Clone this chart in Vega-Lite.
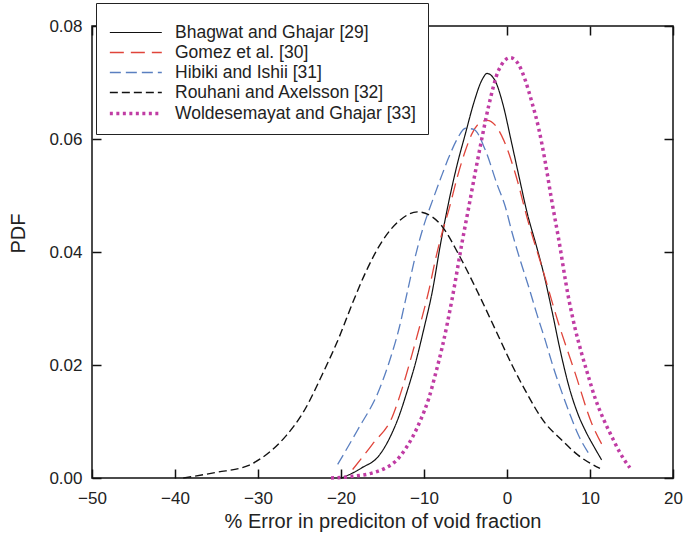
{
  "$schema": "https://vega.github.io/schema/vega-lite/v6.json",
  "autosize": {"type": "none"},
  "padding": {"left": 92, "top": 26, "right": 26, "bottom": 70},
  "width": 581,
  "height": 452,
  "background": "white",
  "config": {
    "view": {"stroke": "#111111", "strokeWidth": 1.5, "fill": null},
    "axis": {
      "grid": false,
      "zindex": 1,
      "labelFont": "Liberation Sans",
      "labelFontSize": 17,
      "labelColor": "#222222",
      "titleFont": "Liberation Sans",
      "titleFontSize": 20,
      "titleFontWeight": "normal",
      "titleColor": "#222222"
    },
    "legend": {
      "labelFont": "Liberation Sans",
      "labelFontSize": 17.5,
      "labelColor": "#222222",
      "labelLimit": 400
    }
  },
  "data": {
    "values": [
      {"series": "Bhagwat and Ghajar [29]", "x": -20.0, "pdf": 0.0000},
      {"series": "Bhagwat and Ghajar [29]", "x": -19.3, "pdf": 0.0004},
      {"series": "Bhagwat and Ghajar [29]", "x": -17.5, "pdf": 0.0018},
      {"series": "Bhagwat and Ghajar [29]", "x": -15.4, "pdf": 0.0040},
      {"series": "Bhagwat and Ghajar [29]", "x": -14.0, "pdf": 0.0075},
      {"series": "Bhagwat and Ghajar [29]", "x": -13.0, "pdf": 0.0110},
      {"series": "Bhagwat and Ghajar [29]", "x": -12.0, "pdf": 0.0155},
      {"series": "Bhagwat and Ghajar [29]", "x": -11.0, "pdf": 0.0205},
      {"series": "Bhagwat and Ghajar [29]", "x": -10.0, "pdf": 0.0265},
      {"series": "Bhagwat and Ghajar [29]", "x": -9.0, "pdf": 0.0330},
      {"series": "Bhagwat and Ghajar [29]", "x": -8.0, "pdf": 0.0415},
      {"series": "Bhagwat and Ghajar [29]", "x": -7.0, "pdf": 0.0490},
      {"series": "Bhagwat and Ghajar [29]", "x": -6.0, "pdf": 0.0555},
      {"series": "Bhagwat and Ghajar [29]", "x": -5.0, "pdf": 0.0610},
      {"series": "Bhagwat and Ghajar [29]", "x": -4.0, "pdf": 0.0664},
      {"series": "Bhagwat and Ghajar [29]", "x": -3.0, "pdf": 0.0705},
      {"series": "Bhagwat and Ghajar [29]", "x": -2.4, "pdf": 0.0716},
      {"series": "Bhagwat and Ghajar [29]", "x": -1.5, "pdf": 0.0705},
      {"series": "Bhagwat and Ghajar [29]", "x": -0.5, "pdf": 0.0662},
      {"series": "Bhagwat and Ghajar [29]", "x": 0.5, "pdf": 0.0597},
      {"series": "Bhagwat and Ghajar [29]", "x": 1.5, "pdf": 0.0530},
      {"series": "Bhagwat and Ghajar [29]", "x": 2.5, "pdf": 0.0465},
      {"series": "Bhagwat and Ghajar [29]", "x": 3.5, "pdf": 0.0413},
      {"series": "Bhagwat and Ghajar [29]", "x": 4.5, "pdf": 0.0357},
      {"series": "Bhagwat and Ghajar [29]", "x": 5.5, "pdf": 0.0290},
      {"series": "Bhagwat and Ghajar [29]", "x": 6.5, "pdf": 0.0220},
      {"series": "Bhagwat and Ghajar [29]", "x": 7.5, "pdf": 0.0160},
      {"series": "Bhagwat and Ghajar [29]", "x": 8.5, "pdf": 0.0115},
      {"series": "Bhagwat and Ghajar [29]", "x": 9.5, "pdf": 0.0082},
      {"series": "Bhagwat and Ghajar [29]", "x": 10.5, "pdf": 0.0055},
      {"series": "Bhagwat and Ghajar [29]", "x": 11.4, "pdf": 0.0032},

      {"series": "Gomez et al. [30]", "x": -18.6, "pdf": 0.0015},
      {"series": "Gomez et al. [30]", "x": -16.2, "pdf": 0.0060},
      {"series": "Gomez et al. [30]", "x": -13.8, "pdf": 0.0109},
      {"series": "Gomez et al. [30]", "x": -12.6, "pdf": 0.0160},
      {"series": "Gomez et al. [30]", "x": -11.4, "pdf": 0.0221},
      {"series": "Gomez et al. [30]", "x": -10.4, "pdf": 0.0275},
      {"series": "Gomez et al. [30]", "x": -9.4, "pdf": 0.0333},
      {"series": "Gomez et al. [30]", "x": -8.6, "pdf": 0.0388},
      {"series": "Gomez et al. [30]", "x": -7.8, "pdf": 0.0435},
      {"series": "Gomez et al. [30]", "x": -7.0, "pdf": 0.0475},
      {"series": "Gomez et al. [30]", "x": -6.0, "pdf": 0.0532},
      {"series": "Gomez et al. [30]", "x": -5.0, "pdf": 0.0580},
      {"series": "Gomez et al. [30]", "x": -4.2, "pdf": 0.0610},
      {"series": "Gomez et al. [30]", "x": -3.4, "pdf": 0.0627},
      {"series": "Gomez et al. [30]", "x": -2.4, "pdf": 0.0633},
      {"series": "Gomez et al. [30]", "x": -1.4, "pdf": 0.0624},
      {"series": "Gomez et al. [30]", "x": -0.4, "pdf": 0.0598},
      {"series": "Gomez et al. [30]", "x": 1.0, "pdf": 0.0539},
      {"series": "Gomez et al. [30]", "x": 2.6, "pdf": 0.0451},
      {"series": "Gomez et al. [30]", "x": 4.2, "pdf": 0.0374},
      {"series": "Gomez et al. [30]", "x": 6.2, "pdf": 0.0274},
      {"series": "Gomez et al. [30]", "x": 8.2, "pdf": 0.0186},
      {"series": "Gomez et al. [30]", "x": 10.2, "pdf": 0.0097},
      {"series": "Gomez et al. [30]", "x": 11.8, "pdf": 0.0050},

      {"series": "Hibiki and Ishii [31]", "x": -20.4, "pdf": 0.0024},
      {"series": "Hibiki and Ishii [31]", "x": -18.0, "pdf": 0.0085},
      {"series": "Hibiki and Ishii [31]", "x": -15.4, "pdf": 0.0156},
      {"series": "Hibiki and Ishii [31]", "x": -14.2, "pdf": 0.0205},
      {"series": "Hibiki and Ishii [31]", "x": -13.0, "pdf": 0.0265},
      {"series": "Hibiki and Ishii [31]", "x": -12.0, "pdf": 0.0330},
      {"series": "Hibiki and Ishii [31]", "x": -11.0, "pdf": 0.0395},
      {"series": "Hibiki and Ishii [31]", "x": -10.0, "pdf": 0.0448},
      {"series": "Hibiki and Ishii [31]", "x": -9.0, "pdf": 0.0490},
      {"series": "Hibiki and Ishii [31]", "x": -8.0, "pdf": 0.0530},
      {"series": "Hibiki and Ishii [31]", "x": -7.0, "pdf": 0.0568},
      {"series": "Hibiki and Ishii [31]", "x": -6.0, "pdf": 0.0600},
      {"series": "Hibiki and Ishii [31]", "x": -5.0, "pdf": 0.0619},
      {"series": "Hibiki and Ishii [31]", "x": -4.0, "pdf": 0.0617},
      {"series": "Hibiki and Ishii [31]", "x": -2.6, "pdf": 0.0580},
      {"series": "Hibiki and Ishii [31]", "x": -1.2, "pdf": 0.0520},
      {"series": "Hibiki and Ishii [31]", "x": -0.2, "pdf": 0.0480},
      {"series": "Hibiki and Ishii [31]", "x": 0.6, "pdf": 0.0435},
      {"series": "Hibiki and Ishii [31]", "x": 1.6, "pdf": 0.0385},
      {"series": "Hibiki and Ishii [31]", "x": 2.6, "pdf": 0.0339},
      {"series": "Hibiki and Ishii [31]", "x": 3.6, "pdf": 0.0290},
      {"series": "Hibiki and Ishii [31]", "x": 4.6, "pdf": 0.0244},
      {"series": "Hibiki and Ishii [31]", "x": 5.6, "pdf": 0.0195},
      {"series": "Hibiki and Ishii [31]", "x": 6.6, "pdf": 0.0152},
      {"series": "Hibiki and Ishii [31]", "x": 7.6, "pdf": 0.0112},
      {"series": "Hibiki and Ishii [31]", "x": 8.6, "pdf": 0.0076},
      {"series": "Hibiki and Ishii [31]", "x": 10.0, "pdf": 0.0040},

      {"series": "Rouhani and Axelsson [32]", "x": -39.0, "pdf": 0.0000},
      {"series": "Rouhani and Axelsson [32]", "x": -35.0, "pdf": 0.0010},
      {"series": "Rouhani and Axelsson [32]", "x": -31.2, "pdf": 0.0022},
      {"series": "Rouhani and Axelsson [32]", "x": -28.6, "pdf": 0.0046},
      {"series": "Rouhani and Axelsson [32]", "x": -26.6, "pdf": 0.0075},
      {"series": "Rouhani and Axelsson [32]", "x": -24.6, "pdf": 0.0115},
      {"series": "Rouhani and Axelsson [32]", "x": -22.2, "pdf": 0.0185},
      {"series": "Rouhani and Axelsson [32]", "x": -20.2, "pdf": 0.0250},
      {"series": "Rouhani and Axelsson [32]", "x": -18.6, "pdf": 0.0310},
      {"series": "Rouhani and Axelsson [32]", "x": -17.0, "pdf": 0.0365},
      {"series": "Rouhani and Axelsson [32]", "x": -15.0, "pdf": 0.0420},
      {"series": "Rouhani and Axelsson [32]", "x": -13.0, "pdf": 0.0455},
      {"series": "Rouhani and Axelsson [32]", "x": -10.8, "pdf": 0.0471},
      {"series": "Rouhani and Axelsson [32]", "x": -9.0, "pdf": 0.0462},
      {"series": "Rouhani and Axelsson [32]", "x": -7.8, "pdf": 0.0445},
      {"series": "Rouhani and Axelsson [32]", "x": -5.8, "pdf": 0.0395},
      {"series": "Rouhani and Axelsson [32]", "x": -3.4, "pdf": 0.0325},
      {"series": "Rouhani and Axelsson [32]", "x": -1.0, "pdf": 0.0250},
      {"series": "Rouhani and Axelsson [32]", "x": 0.6, "pdf": 0.0200},
      {"series": "Rouhani and Axelsson [32]", "x": 2.2, "pdf": 0.0155},
      {"series": "Rouhani and Axelsson [32]", "x": 4.6, "pdf": 0.0097},
      {"series": "Rouhani and Axelsson [32]", "x": 6.4, "pdf": 0.0070},
      {"series": "Rouhani and Axelsson [32]", "x": 8.6, "pdf": 0.0040},
      {"series": "Rouhani and Axelsson [32]", "x": 11.2, "pdf": 0.0017},

      {"series": "Woldesemayat and Ghajar [33]", "x": -21.2, "pdf": 0.0000},
      {"series": "Woldesemayat and Ghajar [33]", "x": -18.6, "pdf": 0.0003},
      {"series": "Woldesemayat and Ghajar [33]", "x": -16.2, "pdf": 0.0009},
      {"series": "Woldesemayat and Ghajar [33]", "x": -14.6, "pdf": 0.0018},
      {"series": "Woldesemayat and Ghajar [33]", "x": -13.4, "pdf": 0.0030},
      {"series": "Woldesemayat and Ghajar [33]", "x": -12.4, "pdf": 0.0048},
      {"series": "Woldesemayat and Ghajar [33]", "x": -11.4, "pdf": 0.0072},
      {"series": "Woldesemayat and Ghajar [33]", "x": -10.4, "pdf": 0.0103},
      {"series": "Woldesemayat and Ghajar [33]", "x": -9.4, "pdf": 0.0142},
      {"series": "Woldesemayat and Ghajar [33]", "x": -8.6, "pdf": 0.0185},
      {"series": "Woldesemayat and Ghajar [33]", "x": -7.8, "pdf": 0.0232},
      {"series": "Woldesemayat and Ghajar [33]", "x": -6.6, "pdf": 0.0318},
      {"series": "Woldesemayat and Ghajar [33]", "x": -5.4, "pdf": 0.0418},
      {"series": "Woldesemayat and Ghajar [33]", "x": -4.6, "pdf": 0.0480},
      {"series": "Woldesemayat and Ghajar [33]", "x": -3.8, "pdf": 0.0543},
      {"series": "Woldesemayat and Ghajar [33]", "x": -3.0, "pdf": 0.0603},
      {"series": "Woldesemayat and Ghajar [33]", "x": -2.2, "pdf": 0.0659},
      {"series": "Woldesemayat and Ghajar [33]", "x": -1.0, "pdf": 0.0722},
      {"series": "Woldesemayat and Ghajar [33]", "x": 0.4, "pdf": 0.0744},
      {"series": "Woldesemayat and Ghajar [33]", "x": 1.4, "pdf": 0.0732},
      {"series": "Woldesemayat and Ghajar [33]", "x": 2.2, "pdf": 0.0704},
      {"series": "Woldesemayat and Ghajar [33]", "x": 3.0, "pdf": 0.0665},
      {"series": "Woldesemayat and Ghajar [33]", "x": 3.8, "pdf": 0.0620},
      {"series": "Woldesemayat and Ghajar [33]", "x": 4.6, "pdf": 0.0560},
      {"series": "Woldesemayat and Ghajar [33]", "x": 5.4, "pdf": 0.0490},
      {"series": "Woldesemayat and Ghajar [33]", "x": 6.2, "pdf": 0.0425},
      {"series": "Woldesemayat and Ghajar [33]", "x": 7.4, "pdf": 0.0320},
      {"series": "Woldesemayat and Ghajar [33]", "x": 8.2, "pdf": 0.0265},
      {"series": "Woldesemayat and Ghajar [33]", "x": 9.0, "pdf": 0.0220},
      {"series": "Woldesemayat and Ghajar [33]", "x": 9.8, "pdf": 0.0180},
      {"series": "Woldesemayat and Ghajar [33]", "x": 10.6, "pdf": 0.0142},
      {"series": "Woldesemayat and Ghajar [33]", "x": 11.6, "pdf": 0.0105},
      {"series": "Woldesemayat and Ghajar [33]", "x": 12.6, "pdf": 0.0074},
      {"series": "Woldesemayat and Ghajar [33]", "x": 13.6, "pdf": 0.0045},
      {"series": "Woldesemayat and Ghajar [33]", "x": 14.8, "pdf": 0.0018}
    ]
  },
  "resolve": {"axis": {"x": "independent", "y": "independent"}},
  "layer": [
    {
      "mark": {"type": "line", "interpolate": "monotone"},
      "encoding": {
        "x": {
          "field": "x", "type": "quantitative",
          "scale": {"domain": [-50, 20], "nice": false, "zero": false},
          "axis": {"orient": "bottom", "values": [-50, -40, -30, -20, -10, 0, 10, 20], "domain": false, "ticks": true, "tickSize": 9, "tickWidth": 1.5, "tickColor": "#111111", "offset": -9, "labelPadding": 12, "title": "% Error in prediciton of void fraction", "titlePadding": 5, "labelFlush": false, "zindex": 1}
        },
        "y": {
          "field": "pdf", "type": "quantitative",
          "scale": {"domain": [0, 0.08], "nice": false, "zero": false},
          "axis": {"orient": "left", "values": [0, 0.02, 0.04, 0.06, 0.08], "format": ".2f", "domain": false, "ticks": true, "tickSize": 9, "tickWidth": 1.5, "tickColor": "#111111", "offset": -9, "labelPadding": 10, "title": "PDF", "titlePadding": 20, "titleY": 207, "zindex": 1}
        },
        "color": {
          "field": "series", "type": "nominal",
          "scale": {
            "domain": ["Bhagwat and Ghajar [29]", "Gomez et al. [30]", "Hibiki and Ishii [31]", "Rouhani and Axelsson [32]", "Woldesemayat and Ghajar [33]"],
            "range": ["#111111", "#e0443a", "#5a7fc0", "#111111", "#c03ca4"]
          },
          "legend": {
            "title": "-",
            "titleColor": "white",
            "titleFontSize": 8,
            "titlePadding": 0,
            "orient": "none",
            "legendX": 4,
            "legendY": -23,
            "padding": 12,
            "strokeColor": "#222222",
            "fillColor": "white",
            "symbolType": "M-1,0H5",
            "symbolSize": 300,
            "labelOffset": 46,
            "rowPadding": 2,
            "zindex": 3
          }
        },
        "strokeDash": {
          "field": "series", "type": "nominal",
          "scale": {
            "domain": ["Bhagwat and Ghajar [29]", "Gomez et al. [30]", "Hibiki and Ishii [31]", "Rouhani and Axelsson [32]", "Woldesemayat and Ghajar [33]"],
            "range": [[1, 0], [14, 7], [11, 5], [8, 4], [3, 3.5]]
          },
          "legend": null
        },
        "strokeWidth": {
          "field": "series", "type": "ordinal",
          "scale": {
            "type": "ordinal",
            "domain": ["Bhagwat and Ghajar [29]", "Gomez et al. [30]", "Hibiki and Ishii [31]", "Rouhani and Axelsson [32]", "Woldesemayat and Ghajar [33]"],
            "range": [1.2, 1.3, 1.3, 1.4, 3.5]
          },
          "legend": null
        }
      }
    },
    {
      "mark": {"type": "line", "opacity": 0},
      "encoding": {
        "x": {
          "field": "x", "type": "quantitative",
          "axis": {"orient": "top", "values": [-50, -40, -30, -20, -10, 0, 10, 20], "labels": false, "title": null, "domain": false, "ticks": true, "tickSize": 9, "tickWidth": 1.5, "tickColor": "#111111", "offset": -9, "zindex": 1}
        },
        "y": {
          "field": "pdf", "type": "quantitative",
          "axis": {"orient": "right", "values": [0, 0.02, 0.04, 0.06, 0.08], "labels": false, "title": null, "domain": false, "ticks": true, "tickSize": 9, "tickWidth": 1.5, "tickColor": "#111111", "offset": -9, "zindex": 1}
        },
        "detail": {"field": "series", "type": "nominal"}
      }
    }
  ]
}
